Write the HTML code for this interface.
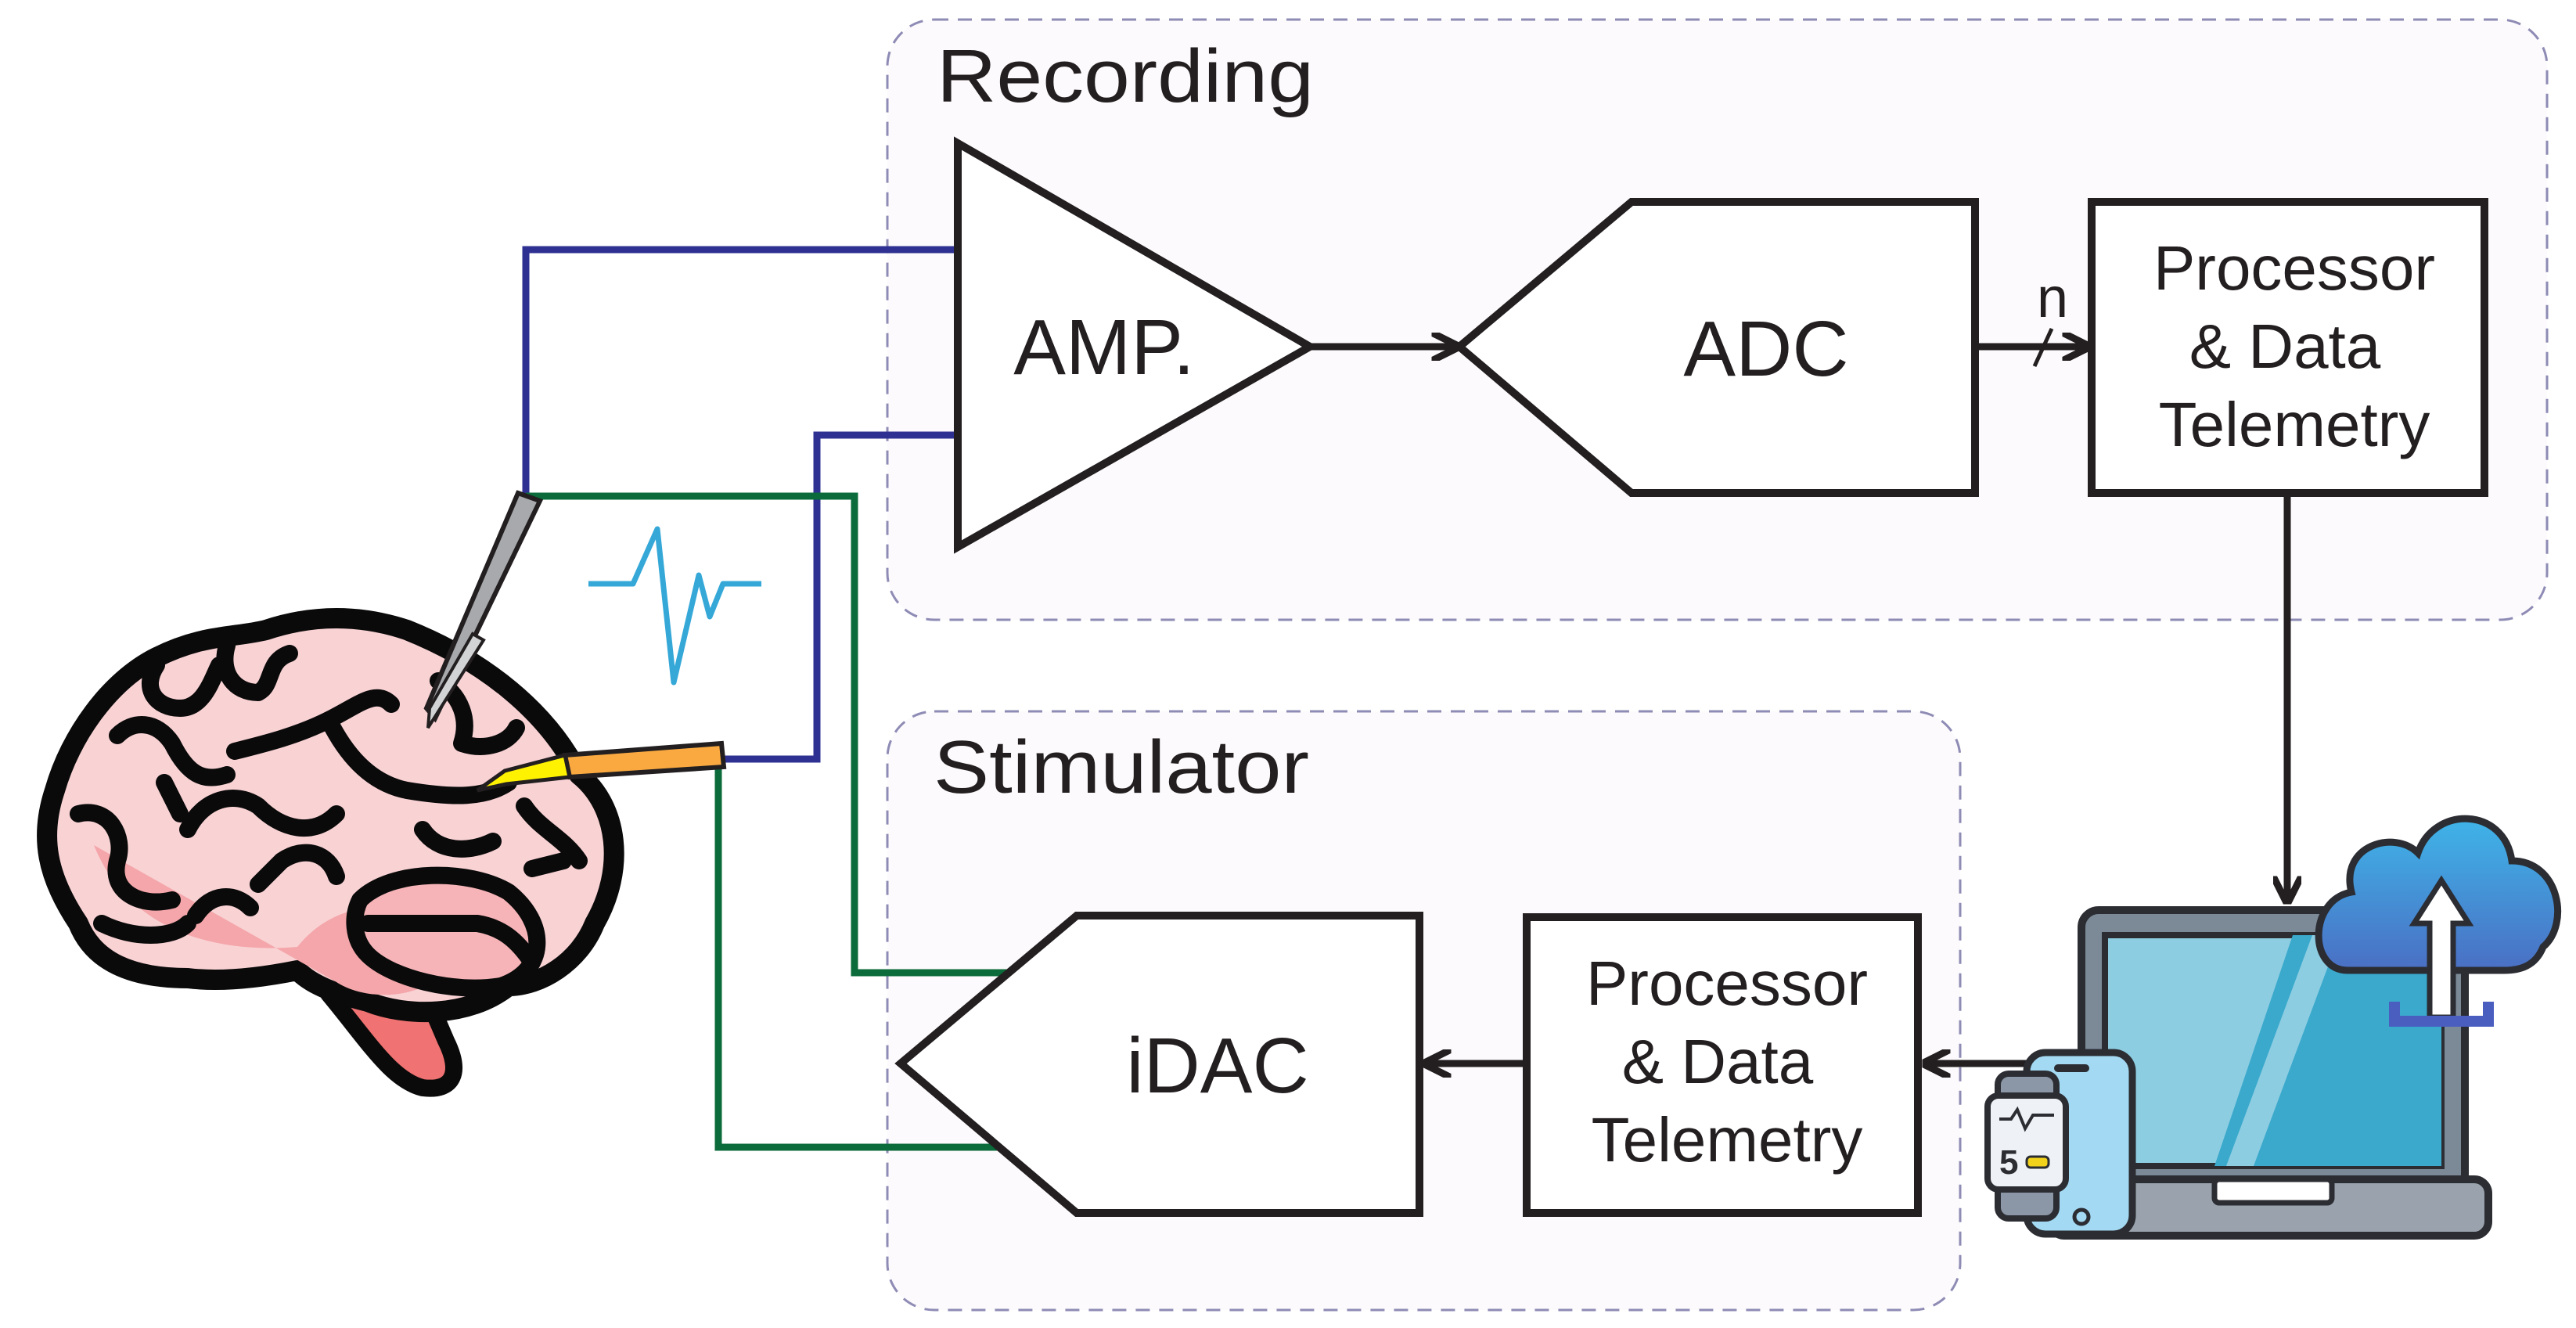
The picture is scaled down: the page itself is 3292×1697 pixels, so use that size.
<!DOCTYPE html>
<html><head><meta charset="utf-8"><style>html,body{margin:0;padding:0;background:#fff}svg{display:block}</style></head>
<body>
<svg width="3292" height="1697" viewBox="0 0 3292 1697" xmlns="http://www.w3.org/2000/svg" font-family="Liberation Sans, sans-serif">
<defs>
<marker id="ah" viewBox="0 0 10 10" refX="9" refY="5" markerWidth="4" markerHeight="4" orient="auto"><path d="M0,0 L10,5 L0,10" fill="none" stroke="#231f20" stroke-width="2.5"/></marker>
<linearGradient id="cl" x1="0" y1="0" x2="0" y2="1"><stop offset="0" stop-color="#3fb4e8"/><stop offset="1" stop-color="#4a6fc4"/></linearGradient>
</defs>
<rect x="1134" y="25" width="2121" height="767" rx="60" fill="#fcfafc" stroke="#8e8bb5" stroke-width="3" stroke-dasharray="18 12"/>
<rect x="1134" y="909" width="1371" height="765" rx="60" fill="#fcfafc" stroke="#8e8bb5" stroke-width="3" stroke-dasharray="18 12"/>
<text x="1197" y="130" font-size="96" fill="#231f20" textLength="482" lengthAdjust="spacingAndGlyphs">Recording</text>
<text x="1193" y="1013" font-size="96" fill="#231f20" textLength="480" lengthAdjust="spacingAndGlyphs">Stimulator</text>

<g fill="none" stroke-width="9">
<polyline points="672,634 672,319 1224,319" stroke="#2e3192"/>
<polyline points="924,970 1044,970 1044,556 1224,556" stroke="#2e3192"/>
<polyline points="672,634 1092,634 1092,1243 1302,1243" stroke="#0b6b3a"/>
<polyline points="918,977 918,1466 1281,1466" stroke="#0b6b3a"/>
</g>
<polyline points="752,746 809,746 840,676 861,872 893,735 907,788 924,746 973,746" fill="none" stroke="#35a8d8" stroke-width="7" stroke-linejoin="round"/>

<polygon points="1224,183 1224,699 1674,443" fill="#fff" stroke="#231f20" stroke-width="10"/>
<text x="1411" y="478" font-size="100" text-anchor="middle" fill="#231f20">AMP.</text>
<line x1="1674" y1="443" x2="1862" y2="443" stroke="#231f20" stroke-width="9" marker-end="url(#ah)"/>
<polygon points="1865,443 2085,258 2524,258 2524,630 2085,630" fill="#fff" stroke="#231f20" stroke-width="10"/>
<text x="2257" y="480" font-size="100" text-anchor="middle" fill="#231f20">ADC</text>
<line x1="2524" y1="443" x2="2668" y2="443" stroke="#231f20" stroke-width="9" marker-end="url(#ah)"/>
<line x1="2600" y1="468" x2="2622" y2="420" stroke="#231f20" stroke-width="5"/>
<text x="2623" y="405" font-size="72" text-anchor="middle" fill="#231f20">n</text>
<rect x="2673" y="258" width="502" height="372" fill="#fff" stroke="#231f20" stroke-width="10"/>
<g font-size="80" text-anchor="middle" fill="#231f20">
<text x="2932" y="370">Processor</text>
<text x="2920" y="470">&amp; Data</text>
<text x="2932" y="570">Telemetry</text>
</g>
<line x1="2923" y1="630" x2="2923" y2="1152" stroke="#231f20" stroke-width="9" marker-end="url(#ah)"/>

<polygon points="1151,1359 1376,1170 1814,1170 1814,1550 1376,1550" fill="#fff" stroke="#231f20" stroke-width="10"/>
<text x="1556" y="1396" font-size="100" text-anchor="middle" fill="#231f20">iDAC</text>
<line x1="1949" y1="1359" x2="1822" y2="1359" stroke="#231f20" stroke-width="9" marker-end="url(#ah)"/>
<rect x="1951" y="1172" width="500" height="378" fill="#fff" stroke="#231f20" stroke-width="10"/>
<g font-size="80" text-anchor="middle" fill="#231f20">
<text x="2207" y="1284">Processor</text>
<text x="2195" y="1384">&amp; Data</text>
<text x="2207" y="1484">Telemetry</text>
</g>
<line x1="2593" y1="1359" x2="2460" y2="1359" stroke="#231f20" stroke-width="9" marker-end="url(#ah)"/>

<rect x="2660" y="1163" width="490" height="360" rx="22" fill="#7c8a98" stroke="#2b2d33" stroke-width="10"/>
<rect x="2690" y="1195" width="430" height="295" fill="#8dcde2" stroke="#2b2d33" stroke-width="8"/>
<polygon points="2930,1195 3120,1195 3120,1490 2830,1490" fill="#3aa9cc"/>
<polygon points="2955,1195 2990,1195 2880,1490 2845,1490" fill="#8dcde2"/>
<rect x="2620" y="1507" width="560" height="72" rx="18" fill="#9aa3ad" stroke="#2b2d33" stroke-width="10"/>
<rect x="2830" y="1507" width="150" height="30" rx="6" fill="#fff" stroke="#2b2d33" stroke-width="7"/>
<path d="M3000,1240 C2950,1240 2950,1150 3005,1140 C2990,1080 3060,1060 3090,1090 C3110,1030 3200,1030 3210,1100 C3270,1100 3285,1180 3250,1210 C3240,1235 3220,1240 3200,1240 Z" fill="url(#cl)" stroke="#2b2d33" stroke-width="9"/>
<path d="M3120,1125 L3085,1180 L3105,1180 L3105,1300 L3135,1300 L3135,1180 L3155,1180 Z" fill="#fff" stroke="#2b2d33" stroke-width="7"/>
<path d="M3060,1280 L3060,1305 L3180,1305 L3180,1280" fill="none" stroke="#4a5ec0" stroke-width="14"/>
<rect x="2590" y="1345" width="135" height="232" rx="24" fill="#a3d9f2" stroke="#2b2d33" stroke-width="9"/>
<rect x="2625" y="1360" width="45" height="10" rx="5" fill="#2b2d33"/>
<circle cx="2660" cy="1555" r="9" fill="none" stroke="#2b2d33" stroke-width="5"/>
<rect x="2553" y="1372" width="75" height="185" rx="14" fill="#8b97a6" stroke="#2b2d33" stroke-width="8"/>
<rect x="2540" y="1400" width="100" height="120" rx="14" fill="#eef2f6" stroke="#2b2d33" stroke-width="8"/>
<polyline points="2555,1430 2570,1430 2578,1418 2588,1442 2598,1425 2625,1425" fill="none" stroke="#2b2d33" stroke-width="4"/>
<text x="2555" y="1500" font-size="44" font-weight="bold" fill="#2b2d33">5</text>
<rect x="2590" y="1478" width="28" height="14" rx="5" fill="#f2d21b" stroke="#2b2d33" stroke-width="3"/>

<g stroke="#0a0a0a" stroke-linecap="round" stroke-linejoin="round">
<path d="M420,1270 C470,1330 500,1380 540,1390 C580,1395 590,1370 570,1330 L540,1260 Z" fill="#f07272" stroke-width="22"/>
<path d="M70,1010 C90,940 140,870 200,840 C260,810 300,815 340,805 C400,785 460,785 520,805 C620,845 700,910 740,990 C790,1030 800,1110 760,1180 C740,1230 690,1260 650,1260 C600,1300 520,1300 470,1280 C430,1270 400,1260 380,1240 C330,1250 280,1255 240,1250 C170,1250 120,1230 100,1180 C60,1120 50,1070 70,1010 Z" fill="#f9d2d4" stroke-width="26"/>
<path d="M120,1080 C160,1180 260,1220 380,1210 C420,1160 480,1150 520,1170 L560,1250 C520,1280 460,1275 430,1255 Z" fill="#f4a6aa" stroke="none"/>
<path d="M460,1150 C500,1110 600,1110 650,1140 C700,1180 700,1240 640,1260 C580,1270 500,1250 470,1220 C450,1200 450,1170 460,1150 Z" fill="#f7b4b8" stroke-width="22"/>
<g fill="none" stroke-width="22">
<path d="M470,1180 L610,1180 C640,1185 660,1200 680,1230"/>
<path d="M200,850 C180,880 200,905 230,905 C260,905 270,870 280,850"/>
<path d="M290,825 C280,860 300,885 330,885 C350,875 340,845 370,835"/>
<path d="M150,940 C170,920 200,920 220,950 C240,990 260,1000 290,990"/>
<path d="M300,960 C340,950 380,940 420,920 C460,900 480,880 500,900"/>
<path d="M420,920 C440,960 470,1000 520,1010 C580,1020 620,1020 650,1000"/>
<path d="M100,1040 C140,1030 160,1070 150,1100 C140,1140 180,1160 220,1150"/>
<path d="M240,1060 C260,1020 300,1010 330,1030 C360,1060 400,1070 430,1040"/>
<path d="M330,1130 L360,1100 C390,1080 420,1090 430,1120"/>
<path d="M250,1170 C270,1140 300,1140 320,1160"/>
<path d="M560,870 C590,890 600,920 590,950 C620,960 650,950 660,930"/>
<path d="M670,1030 C690,1060 720,1070 740,1100"/>
<path d="M210,1000 L230,1040 M540,1060 C560,1090 600,1090 630,1075"/>
<path d="M130,1180 C170,1200 220,1200 240,1180 M680,1110 L720,1100"/>
</g>
</g>
<polygon points="662,630 690,640 556,918 545,905" fill="#a7a9ac" stroke="#231f20" stroke-width="6"/>
<polygon points="604,810 618,818 547,930 549,905" fill="#d1d3d4" stroke="#231f20" stroke-width="4"/>
<polygon points="722,965 922,950 925,980 728,993" fill="#f9a940" stroke="#231f20" stroke-width="6"/>
<polygon points="722,965 728,993 647,1002 610,1010 645,985" fill="#fff200" stroke="#231f20" stroke-width="5"/>
</svg>
</body></html>
